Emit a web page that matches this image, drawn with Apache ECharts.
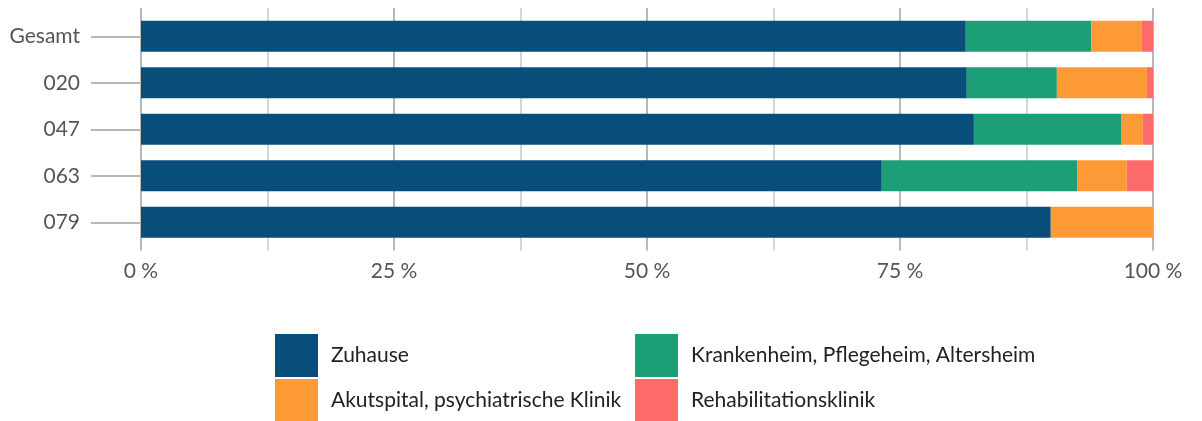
<!DOCTYPE html>
<html>
<head>
<meta charset="utf-8">
<script src="https://cdn.jsdelivr.net/npm/echarts@6/dist/echarts.min.js"></script>
<style>
 html, body { margin: 0; padding: 0; background: #fff; }
 #chart { width: 1202px; height: 421px; }
</style>
</head>
<body>
<div id="chart"></div>
<script>
var regions = ['Gesamt', '020', '047', '063', '079'];
var seriesNames = ['Zuhause', 'Krankenheim, Pflegeheim, Altersheim', 'Akutspital, psychiatrische Klinik', 'Rehabilitationsklinik'];
var zuhause = [81.5, 81.6, 82.3, 73.2, 89.9];
var heim = [12.4, 8.9, 14.6, 19.3, 0];
var akut = [5.0, 8.9, 2.1, 4.9, 10.1];
var reha = [1.1, 0.6, 1.0, 2.6, 0];
var colors = ['#074e7a', '#1c9e77', '#fd9a36', '#fe6b6b'];

var font = 'Lato, "Open Sans", sans-serif';
var values = [zuhause, heim, akut, reha];

// legend slots: [left, top] per series
var legendPos = [[270, 329], [630, 329], [270, 374], [630, 374]];

var chart = echarts.init(document.getElementById('chart'));

var xCommon = {
 type: 'value',
 min: 0,
 max: 100,
 interval: 25,
 axisLine: { show: false },
 axisTick: { show: true, length: 5, lineStyle: { color: '#b8b8b8', width: 2 } },
 minorTick: { show: true, splitNumber: 2, length: 5, lineStyle: { color: '#d6d6d6', width: 2 } },
 splitLine: { show: true, lineStyle: { color: '#b8b8b8', width: 2 } },
 minorSplitLine: { show: true, lineStyle: { color: '#d6d6d6', width: 2 } }
};

var yCommon = {
 type: 'category',
 inverse: true,
 data: regions,
 axisLine: { show: false },
 axisTick: { show: true, alignWithLabel: true, length: 50, lineStyle: { color: '#b8b8b8', width: 2 } },
 splitLine: { show: false }
};

var option = {
 animation: false,
 color: colors,
 grid: { left: 141, right: 49, top: 13, bottom: 175.5, containLabel: false },
 xAxis: [
  Object.assign({}, xCommon, {
   position: 'bottom',
   axisLabel: {
    show: true, margin: 15, color: '#555555', fontSize: 21, fontFamily: font,
    formatter: function (v) { return v + ' %'; }
   }
  }),
  Object.assign({}, xCommon, { position: 'top', axisLabel: { show: false }, splitLine: { show: false }, minorSplitLine: { show: false } })
 ],
 yAxis: [
  Object.assign({}, yCommon, {
   position: 'left',
   axisLabel: { show: true, margin: 61, color: '#555555', fontSize: 21, fontFamily: font }
  }),
  Object.assign({}, yCommon, { position: 'right', axisLabel: { show: false } })
 ],
 legend: seriesNames.map(function (name, i) {
  return {
   data: [name],
   left: legendPos[i][0], top: legendPos[i][1],
   itemWidth: 43, itemHeight: 43,
   icon: 'rect',
   textStyle: { color: '#222222', fontSize: 21, fontFamily: font, padding: [0, 0, 0, 8] }
  };
 }),
 series: seriesNames.map(function (name, i) {
  return {
   name: name,
   type: 'bar',
   stack: 'total',
   barWidth: 31,
   data: values[i],
   itemStyle: { color: colors[i] }
  };
 })
};

chart.setOption(option);
</script>
</body>
</html>
